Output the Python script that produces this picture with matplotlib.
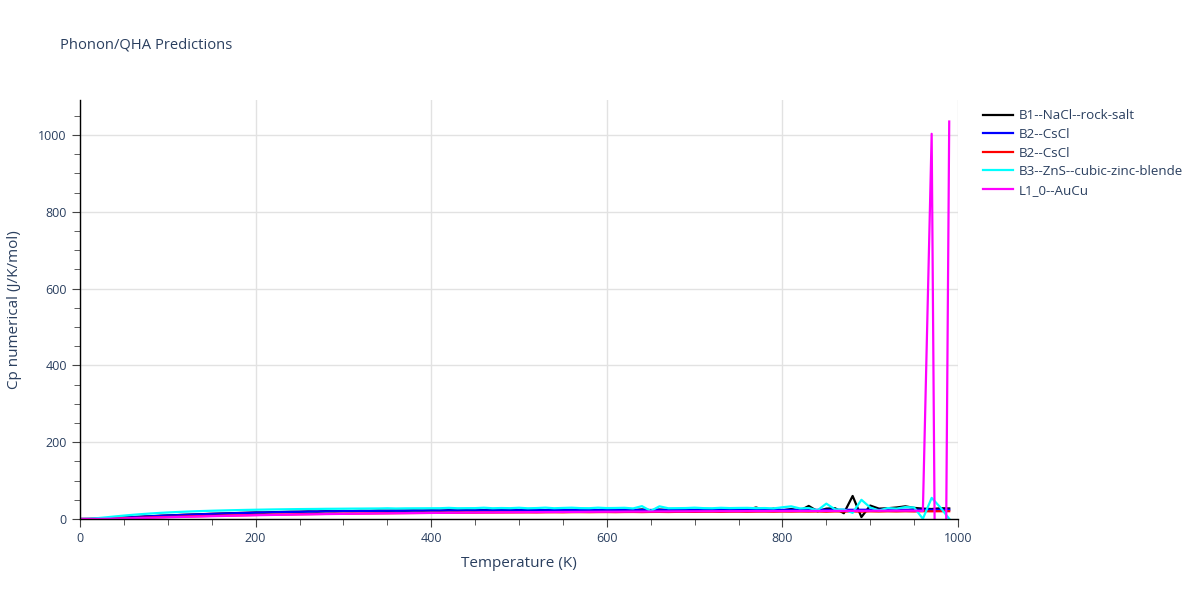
import numpy as np
import matplotlib
matplotlib.use("Agg")
import matplotlib.pyplot as plt
from matplotlib.ticker import MultipleLocator

plt.rcParams["font.family"] = ["Open Sans", "DejaVu Sans"]
TXT = "#2a3f5f"

temps = np.arange(0, 1000, 10)

b1_nacl = [
    0, 0.1, 0.7, 1.5, 2.6, 3.7, 4.9, 6.1, 7.2, 8.3,
    9.3, 10.2, 11.1, 11.9, 12.7, 13.5, 14.2, 14.9, 15.6, 16.2,
    17.0, 16.9, 17.8, 18.2, 18.9, 19.0, 19.9, 19.4, 20.4, 20.1,
    20.9, 20.6, 21.3, 21.0, 21.9, 21.4, 22.0, 21.7, 22.3, 21.9,
    22.6, 22.0, 22.8, 22.2, 23.0, 22.4, 23.2, 22.5, 23.4, 22.7,
    23.3, 22.8, 23.6, 23.0, 23.5, 23.0, 23.8, 23.1, 23.6, 23.2,
    23.9, 23.3, 24.2, 23.0, 25.0, 22.8, 24.6, 23.4, 23.6, 24.0,
    23.5, 24.2, 23.4, 24.5, 23.2, 25.0, 24.0, 30.0, 23.0, 27.0,
    22.5, 26.0, 22.0, 34.0, 20.0, 27.0, 28.0, 15.0, 60.0, 5.0,
    35.0, 27.0, 28.0, 30.0, 33.0, 29.0, 27.0, 26.0, 28.0, 27.5,
]
b2_cscl_a = [
    0, 0.1, 0.6, 1.4, 2.4, 3.5, 4.7, 5.9, 7.0, 8.1,
    9.1, 10.0, 10.9, 11.7, 12.5, 13.3, 14.0, 14.7, 15.4, 16.0,
    16.6, 17.1, 17.6, 18.1, 18.5, 18.9, 19.3, 19.6, 19.9, 20.2,
    20.5, 20.7, 20.9, 21.1, 21.3, 21.5, 21.6, 21.8, 21.9, 22.0,
    22.1, 22.2, 22.3, 22.4, 22.5, 22.6, 22.6, 22.7, 22.8, 22.8,
    22.9, 22.9, 23.0, 23.0, 23.1, 23.1, 23.2, 23.2, 23.2, 23.3,
    23.3, 23.3, 23.4, 23.4, 23.4, 23.5, 23.5, 23.5, 23.5, 23.6,
    23.6, 23.6, 23.6, 23.7, 23.7, 23.7, 23.7, 23.7, 23.8, 23.8,
    23.8, 23.8, 23.8, 23.9, 23.9, 23.9, 23.9, 23.9, 23.9, 24.0,
    24.0, 24.0, 24.0, 24.0, 24.0, 24.1, 24.1, 24.1, 24.1, 24.1,
]
b2_cscl_b = [
    0, 0.1, 0.4, 0.9, 1.5, 2.1, 2.8, 3.4, 4.1, 4.7,
    5.3, 5.9, 6.5, 7.0, 7.6, 8.1, 8.6, 9.1, 9.6, 10.0,
    10.5, 10.9, 11.3, 11.7, 12.0, 12.4, 12.7, 13.0, 13.3, 13.6,
    13.9, 14.1, 14.4, 14.6, 14.8, 15.0, 15.2, 15.4, 15.6, 15.8,
    15.9, 16.1, 16.2, 16.4, 16.5, 16.6, 16.8, 16.9, 17.0, 17.1,
    17.2, 17.3, 17.1, 17.5, 17.6, 17.4, 17.8, 17.9, 17.7, 18.0,
    18.1, 17.8, 18.2, 18.3, 18.0, 18.4, 18.5, 18.2, 18.6, 18.7,
    18.5, 18.8, 18.9, 18.6, 19.0, 19.1, 18.8, 19.2, 19.3, 19.0,
    19.4, 19.2, 19.5, 19.3, 19.6, 19.0, 19.7, 19.4, 19.8, 19.2,
    19.9, 19.5, 20.0, 19.6, 20.1, 19.7, 20.2, 20.0, 20.2, 20.3,
]
b3_zns = [
    0.0, 0.6, 2.2, 4.4, 6.7, 8.9, 10.9, 12.7, 14.3, 15.7,
    17.0, 18.1, 19.1, 20.0, 20.8, 21.5, 22.1, 22.7, 23.2, 23.7,
    24.1, 24.5, 24.9, 25.2, 25.5, 25.8, 26.0, 26.2, 26.5, 26.6,
    26.8, 27.0, 27.1, 27.3, 27.4, 27.9, 27.3, 27.7, 27.8, 27.9,
    28.0, 28.1, 29.0, 28.0, 28.2, 28.3, 29.4, 28.0, 28.6, 28.2,
    29.3, 27.9, 28.5, 29.6, 28.0, 28.8, 29.5, 28.3, 28.1, 29.5,
    28.4, 28.7, 29.2, 27.5, 33.5, 21.0, 33.0, 28.0, 28.2, 28.5,
    29.5, 28.3, 28.0, 29.2, 28.4, 28.8, 29.0, 28.2, 28.5, 27.6,
    30.5, 33.0, 27.5, 28.5, 22.5, 40.0, 25.0, 24.5, 16.0, 50.0,
    30.0, 22.0, 28.5, 27.0, 31.0, 30.0, 0.5, 55.0, 30.0, 0.5,
]
l10_aucu = [
    0, 0.05, 0.2, 0.5, 0.9, 1.4, 2.0, 2.6, 3.2, 3.8,
    4.4, 5.0, 5.6, 6.2, 6.7, 7.3, 7.8, 8.3, 8.8, 9.3,
    9.8, 10.2, 10.6, 11.0, 11.4, 11.8, 12.1, 12.5, 12.8, 13.1,
    13.4, 13.7, 14.0, 14.2, 14.5, 14.7, 15.0, 15.2, 15.4, 15.6,
    15.8, 16.0, 16.2, 16.4, 16.6, 16.8, 17.0, 17.1, 17.3, 17.5,
    17.6, 17.8, 17.9, 18.1, 18.2, 18.4, 18.5, 18.6, 18.8, 18.9,
    19.0, 19.1, 19.2, 19.3, 19.4, 19.5, 19.6, 19.7, 19.8, 19.9,
    20.0, 20.1, 20.2, 20.3, 20.3, 20.4, 20.5, 20.6, 20.6, 20.7,
    20.8, 20.8, 20.9, 21.0, 21.0, 21.1, 21.2, 21.2, 21.3, 21.3,
    21.4, 21.5, 21.5, 21.6, 21.6, 21.7, 21.0, 1003, -2000, 1035,
]

series = [
    ("B1--NaCl--rock-salt", b1_nacl, "black"),
    ("B2--CsCl", b2_cscl_a, "blue"),
    ("B2--CsCl", b2_cscl_b, "red"),
    ("B3--ZnS--cubic-zinc-blende", b3_zns, "#00ffff"),
    ("L1_0--AuCu", l10_aucu, "#ff00ff"),
]

fig = plt.figure(figsize=(12, 6), dpi=100)
ax = fig.add_axes([80 / 1200, 1 - 519 / 600, 878 / 1200, 419 / 600])

for name, vals, col in series:
    ax.plot(temps, vals, color=col, lw=1.6, label=name, zorder=3)

ax.set_xlim(0, 1000)
ax.set_ylim(0, 1091)
ax.xaxis.set_major_locator(MultipleLocator(200))
ax.xaxis.set_minor_locator(MultipleLocator(50))
ax.yaxis.set_major_locator(MultipleLocator(200))
ax.yaxis.set_minor_locator(MultipleLocator(50))
ax.grid(True, which="major", color="#e2e2e2", lw=1)
ax.set_axisbelow(True)
for s in ["top", "right"]:
    ax.spines[s].set_visible(False)
for s in ["left", "bottom"]:
    ax.spines[s].set_color("black")
    ax.spines[s].set_linewidth(1)
    ax.spines[s].set_zorder(4)
ax.tick_params(which="major", length=6, color="#444", labelsize=9, labelcolor=TXT)
ax.tick_params(which="minor", length=4, color="#444")
ax.set_xlabel("Temperature (K)", fontsize=11, color=TXT, labelpad=8)
ax.set_ylabel("Cp numerical (J/K/mol)", fontsize=11, color=TXT, labelpad=12)

fig.text(60 / 1200, 1 - 45 / 600, "Phonon/QHA Predictions", fontsize=10.6,
         color=TXT, va="center")

ax.legend(loc="upper left", bbox_to_anchor=(978 / 1200, 1 - 104 / 600),
          bbox_transform=fig.transFigure, frameon=False, fontsize=9.6,
          labelcolor=TXT, handlelength=2.2, handletextpad=0.45,
          labelspacing=0.42, borderaxespad=0)

fig.savefig("out.png", dpi=100)
